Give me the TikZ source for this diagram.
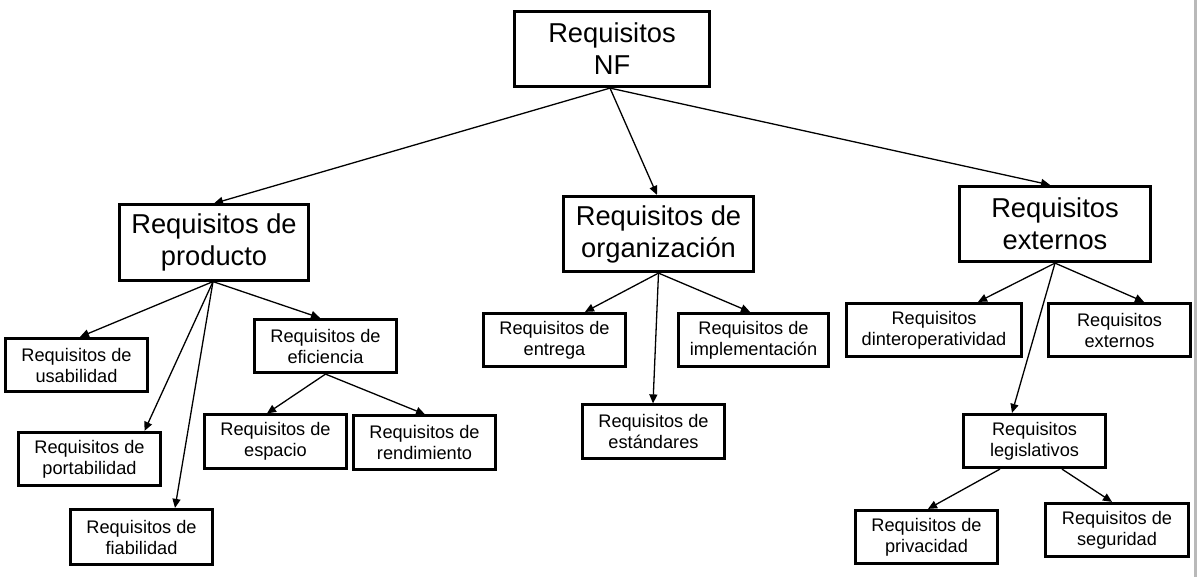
\documentclass[tikz,border=0pt]{standalone}
\usepackage{fontspec}
\setmainfont{Liberation Sans}
\usetikzlibrary{arrows.meta}
\begin{document}
\begin{tikzpicture}[x=1pt,y=-1pt,
  boxbase/.style={draw, line width=2.7pt, inner sep=0pt, align=center},
  big/.style={boxbase, minimum height=75.5pt, font=\fontsize{27.3}{32}\selectfont},
  small/.style={boxbase, minimum width=142.5pt, minimum height=53.5pt, font=\fontsize{18.2}{21}\selectfont},
  conn/.style={line width=1.3pt, -{Triangle[length=9pt,width=8pt]}}]
\useasboundingbox (0,0) rectangle (1200,577);
\fill[gray!55] (1194,0) rectangle (1197,577);
% level 0
\node[big, minimum width=195.5pt] (nf) at (612,49) {Requisitos\\NF};
% level 1
\node[big, minimum width=189.5pt] (prod) at (214,242.5) {Requisitos de\\producto};
\node[big, minimum width=190.5pt] (org) at (658.5,234) {Requisitos de\\organización};
\node[big, minimum width=191.5pt] (ext) at (1055,224) {Requisitos\\externos};
% producto children
\node[small] (usa) at (76.5,365) {Requisitos de\\usabilidad};
\node[small] (por) at (89.5,459) {Requisitos de\\portabilidad};
\node[small, minimum height=55.5pt] (fia) at (141.5,537) {Requisitos de\\fiabilidad};
\node[small] (efi) at (325.5,346) {Requisitos de\\eficiencia};
\node[small] (esp) at (275.5,441.5) {Requisitos de\\espacio};
\node[small] (ren) at (424.5,442.5) {Requisitos de\\rendimiento};
% organizacion children
\node[small] (ent) at (554.5,340) {Requisitos de\\entrega};
\node[small, minimum width=150.5pt] (imp) at (753.5,340) {Requisitos de\\implementación};
\node[small] (est) at (653.5,431.5) {Requisitos de\\estándares};
% externos children
\node[small, minimum width=175.5pt] (din) at (934,330) {Requisitos\\dinteroperatividad};
\node[small] (exs) at (1119.5,330) {Requisitos\\externos};
\node[small] (leg) at (1034.5,441) {Requisitos\\legislativos};
\node[small] (pri) at (926.5,537) {Requisitos de\\privacidad};
\node[small] (seg) at (1117,530) {Requisitos de\\seguridad};
% connectors
\draw[conn] ([xshift=-2pt]nf.south) -- (prod.north);
\draw[conn] ([xshift=-2pt]nf.south) -- ([xshift=-1.5pt]org.north);
\draw[conn] ([xshift=-2pt]nf.south) -- ([xshift=-5pt]ext.north);
\draw[conn] ([xshift=-1pt]prod.south) -- ([xshift=3.5pt]usa.north);
\draw[conn] ([xshift=-1pt]prod.south) -- ([xshift=55pt]por.north);
\draw[conn] ([xshift=-1pt]prod.south) -- ([xshift=33.5pt]fia.north);
\draw[conn] ([xshift=-1pt]prod.south) -- ([xshift=-5.5pt]efi.north);
\draw[conn] (efi.south) -- ([xshift=-8.5pt]esp.north);
\draw[conn] (efi.south) -- ([xshift=0.5pt]ren.north);
\draw[conn] (org.south) -- ([xshift=30.5pt]ent.north);
\draw[conn] (org.south) -- ([xshift=-3.5pt]imp.north);
\draw[conn] (org.south) -- ([xshift=-0.5pt]est.north);
\draw[conn] (ext.south) -- ([xshift=44pt]din.north);
\draw[conn] (ext.south) -- ([xshift=24.5pt]exs.north);
\draw[conn] (ext.south) -- ([xshift=-22.5pt]leg.north);
\draw[conn] ([xshift=-34.5pt]leg.south) -- ([xshift=1.5pt]pri.north);
\draw[conn] ([xshift=27.5pt]leg.south) -- ([xshift=-5pt]seg.north);
\end{tikzpicture}
\end{document}
